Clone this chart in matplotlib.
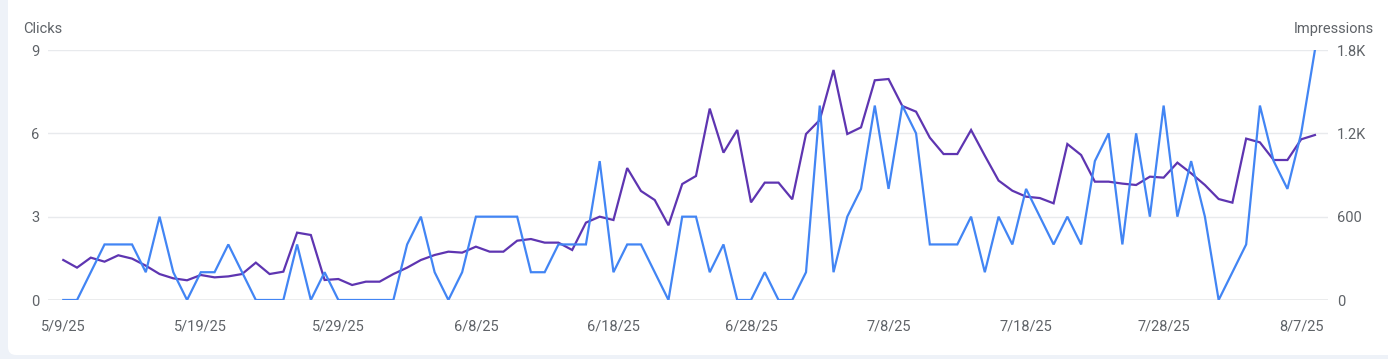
import matplotlib.pyplot as plt
import numpy as np
import pandas as pd
from matplotlib.patches import FancyBboxPatch
from matplotlib.transforms import IdentityTransform

plt.rcParams['font.family'] = ['Roboto', 'DejaVu Sans']

# daily values 5/9/25 .. 8/8/25
start_date = '2025-05-09'
clicks = [0, 0, 1, 2, 2, 2, 1, 3, 1, 0, 1, 1, 2, 1, 0, 0, 0, 2, 0, 1, 0, 0,
          0, 0, 0, 2, 3, 1, 0, 1, 3, 3, 3, 3, 1, 1, 2, 2, 2, 5, 1, 2, 2, 1, 0, 3,
          3, 1, 2, 0, 0, 1, 0, 0, 1, 7, 1, 3, 4, 7, 4, 7, 6, 2, 2, 2, 3, 1, 3,
          2, 4, 3, 2, 3, 2, 5, 6, 2, 6, 3, 7, 3, 5, 3, 0, 1, 2, 7, 5, 4, 6, 9]
impressions = [288, 233, 305, 276, 322, 298, 247, 187, 156, 142, 180, 163, 170, 187, 269, 187, 204, 485, 468, 144, 151, 108,
               132, 132, 187, 233, 288, 324, 348, 341, 384, 348, 348, 427, 439, 413, 413, 360, 557, 600, 576, 950, 785, 720, 538, 835,
               893, 1378, 1061, 1224, 703, 845, 845, 725, 1195, 1296, 1656, 1195, 1243, 1582, 1591, 1397, 1356, 1169, 1051, 1051, 1224, 1039, 860,
               787, 744, 734, 696, 1123, 1044, 852, 852, 838, 828, 888, 881, 989, 912, 828, 727, 701, 1162, 1135, 1008, 1008, 1157, 1188]
click_ticks = [0, 3, 6, 9]
imp_ticks = [0, 600, 1200, 1800]
imp_tick_labels = ['0', '600', '1.2K', '1.8K']

dates = pd.date_range(start_date, periods=len(clicks))
x = np.arange(len(dates))

TXT = '#5f6368'
BLUE = '#4285f4'
PURPLE = '#5e35b1'

fig = plt.figure(figsize=(13.88, 3.59), dpi=100)
fig.patch.set_facecolor('#eef2f8')
card = FancyBboxPatch((8, 4), 1420, 400, boxstyle='round,pad=0,rounding_size=8',
                      transform=IdentityTransform(), facecolor='white', edgecolor='none', zorder=-10)
fig.patches.append(card)

W, H = 1388, 359
ax = fig.add_axes([48 / W, 59 / H, (1328 - 48) / W, 250 / H])
ax2 = ax.twinx()

ax2.plot(x, impressions, color=PURPLE, lw=1.6, solid_joinstyle='miter')
ax.plot(x, clicks, color=BLUE, lw=1.6, solid_joinstyle='miter')
ax.set_zorder(ax2.get_zorder() + 1)
ax.patch.set_visible(False)
ax2.patch.set_visible(False)

ax.set_ylim(0, 9)
ax2.set_ylim(0, 1800)
ax.set_xlim(-1.11, 91.95)

ax.set_yticks(click_ticks)
ax.set_yticklabels([str(t) for t in click_ticks])
ax2.set_yticks(imp_ticks)
ax2.set_yticklabels(imp_tick_labels)

tick_idx = x[::10]
ax.set_xticks(tick_idx)
ax.set_xticklabels([f"{d.month}/{d.day}/{d:%y}" for d in dates[tick_idx]])

for a in (ax, ax2):
    for s in a.spines.values():
        s.set_visible(False)
ax.tick_params(axis='both', length=0, labelsize=10.5, labelcolor=TXT)
ax.tick_params(axis='x', pad=14)
ax.tick_params(axis='y', pad=6)
ax2.tick_params(axis='y', length=0, labelsize=10.5, labelcolor=TXT, pad=6.5)

# gridlines, darker baseline
for t in click_ticks[1:]:
    ax2.axhline(t * 200, color='#e8eaed', lw=1, zorder=0)
ax2.axhline(0, color='#9aa0a6', lw=1, zorder=0.5)

fig.text(23 / W, 1 - 29 / H, 'Clicks', ha='left', va='center', fontsize=10.5, color=TXT)
fig.text(1374 / W, 1 - 29 / H, 'Impressions', ha='right', va='center', fontsize=10.5, color=TXT)

fig.savefig('out.png', dpi=100, facecolor=fig.get_facecolor())
